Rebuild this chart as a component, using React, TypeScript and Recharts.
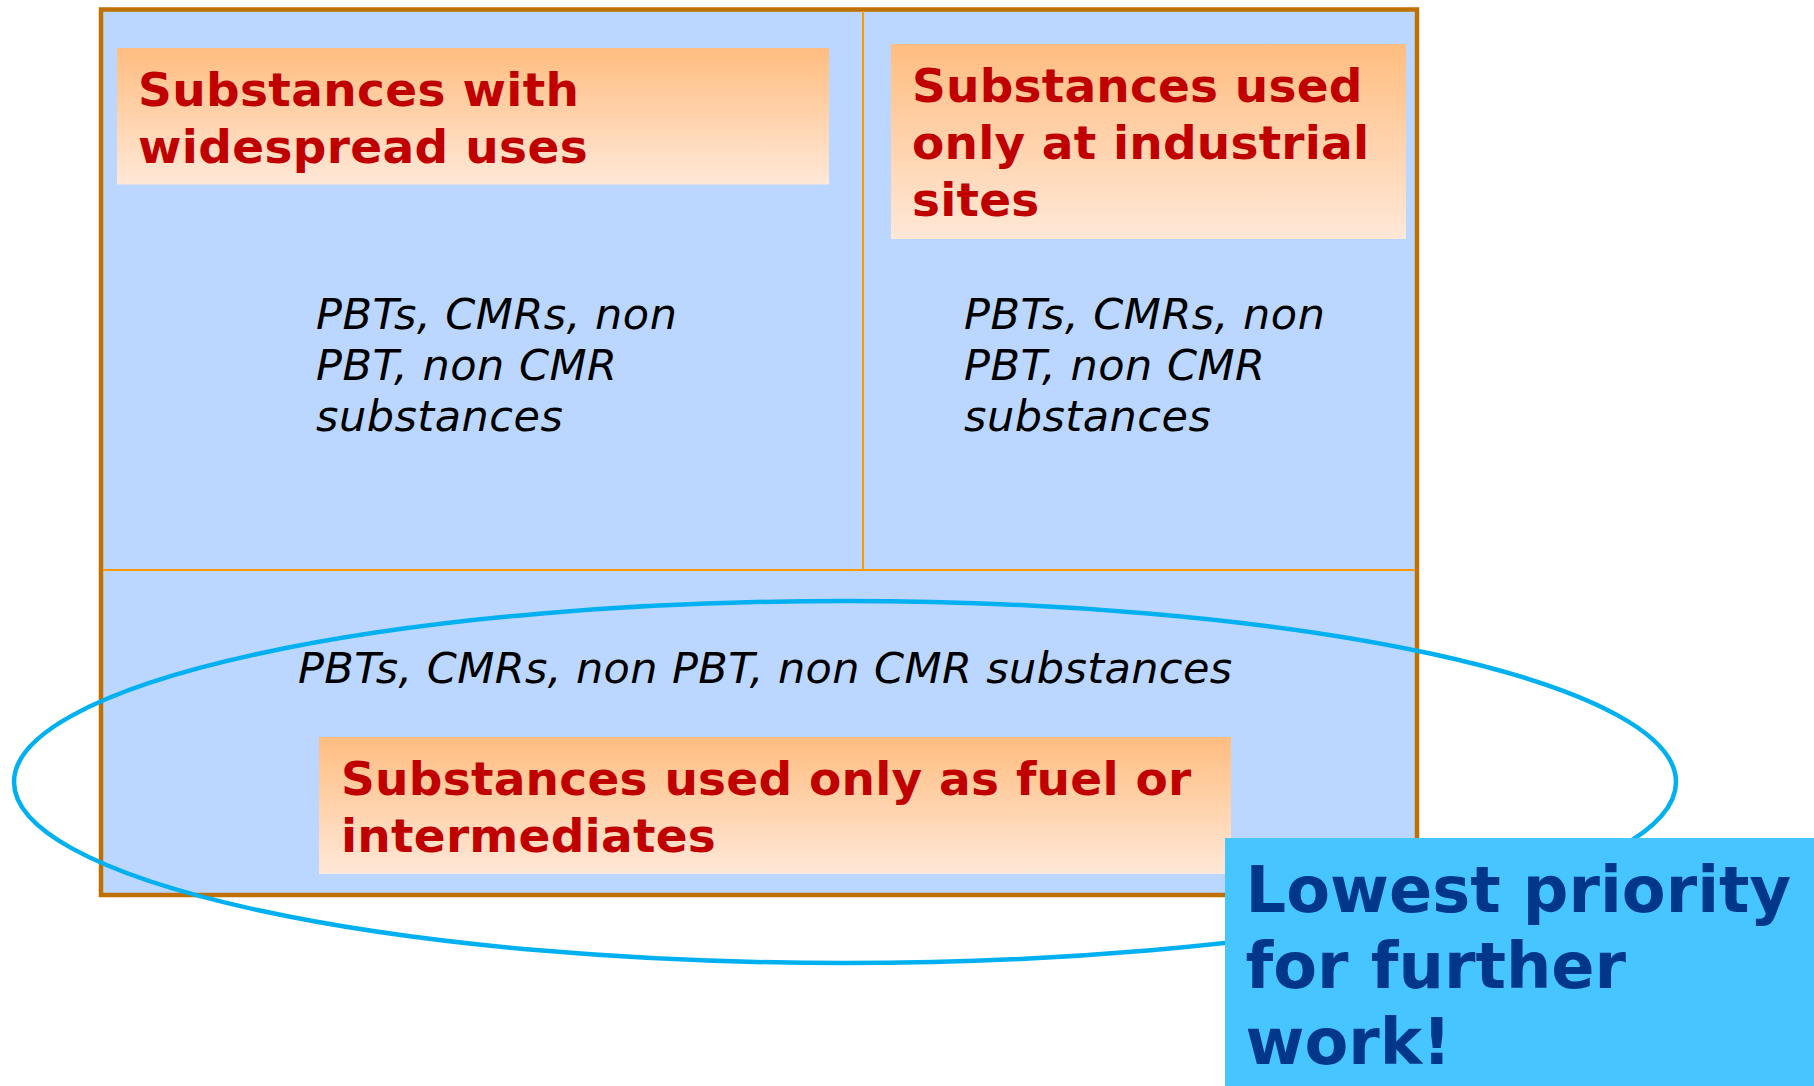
import React from "react";
import { ComposedChart, XAxis, YAxis, ReferenceArea, ReferenceLine, ReferenceDot } from "recharts";

// text content of the diagram
const widespreadTitle = ["Substances with", "widespread uses"];
const industrialTitle = ["Substances used", "only at industrial", "sites"];
const fuelTitle = ["Substances used only as fuel or", "intermediates"];
const hazardLines = ["PBTs, CMRs, non", "PBT, non CMR", "substances"];
const hazardLineWide = ["PBTs, CMRs, non PBT, non CMR substances"];
const calloutLines = ["Lowest priority", "for further", "work!"];

const W = 1814;
const H = 1086;
const FONT = "'DejaVu Sans', Verdana, sans-serif";

const RED = "#C00000";
const PANEL = "#BBD7FF";
const BORDER = "#BF7000";
const DIVIDER = "#FF9900";
const RING = "#00B0F0";
const CALLOUT = "#47C5FF";
const CALLOUT_TEXT = "#00378A";

const textShape = (
  lines: string[],
  opts: { size: number; lh: number; color: string; bold?: boolean; italic?: boolean; spacing?: number }
) =>
  (props: any) => (
    <text
      x={props.cx}
      y={props.cy}
      fill={opts.color}
      fontFamily={FONT}
      fontSize={opts.size}
      fontWeight={opts.bold ? "bold" : "normal"}
      fontStyle={opts.italic ? "italic" : "normal"}
      letterSpacing={opts.spacing ?? 0}
    >
      {lines.map((l, i) => (
        <tspan key={i} x={props.cx} dy={i === 0 ? 0 : opts.lh}>{l}</tspan>
      ))}
    </text>
  );

const ellipseShape = (props: any) => (
  <ellipse
    cx={props.x + props.width / 2}
    cy={props.y + props.height / 2}
    rx={props.width / 2}
    ry={props.height / 2}
    fill="none"
    stroke={RING}
    strokeWidth={4.5}
  />
);

export default function App() {
  return (
    <div style={{ position: "absolute", left: 0, top: 0, width: W, height: H, background: "#fff" }}>
      <ComposedChart width={W} height={H} margin={{ top: 0, right: 0, bottom: 0, left: 0 }} data={[]}>
        <defs>
          <linearGradient id="peach" x1="0" y1="0" x2="0" y2="1">
            <stop offset="0%" stopColor="#FFBD80" />
            <stop offset="100%" stopColor="#FFE8D8" />
          </linearGradient>
        </defs>
        <XAxis type="number" dataKey="x" domain={[0, W]} allowDataOverflow hide height={0} />
        <YAxis type="number" dataKey="y" domain={[0, H]} allowDataOverflow reversed hide width={0} />

        {/* main panel */}
        <ReferenceArea x1={101} x2={1417} y1={9.5} y2={895} fill={PANEL} fillOpacity={1} stroke={BORDER} strokeWidth={4.5} ifOverflow="visible" />
        <ReferenceLine segment={[{ x: 863, y: 11 }, { x: 863, y: 570 }]} stroke={DIVIDER} strokeWidth={2} ifOverflow="visible" />
        <ReferenceLine segment={[{ x: 103, y: 570 }, { x: 1415, y: 570 }]} stroke={DIVIDER} strokeWidth={2} ifOverflow="visible" />

        {/* title boxes */}
        <ReferenceArea x1={117} x2={829} y1={48} y2={184.5} fill="url(#peach)" fillOpacity={1} stroke="none" ifOverflow="visible" />
        <ReferenceArea x1={891} x2={1406} y1={44} y2={239} fill="url(#peach)" fillOpacity={1} stroke="none" ifOverflow="visible" />
        <ReferenceArea x1={319} x2={1231} y1={737} y2={874} fill="url(#peach)" fillOpacity={1} stroke="none" ifOverflow="visible" />

        <ReferenceDot x={138} y={106} r={0} ifOverflow="visible" shape={textShape(widespreadTitle, { size: 47, lh: 57, color: RED, bold: true, spacing: 0.35 })} />
        <ReferenceDot x={912} y={102} r={0} ifOverflow="visible" shape={textShape(industrialTitle, { size: 47, lh: 57, color: RED, bold: true, spacing: 0.2 })} />
        <ReferenceDot x={341} y={795} r={0} ifOverflow="visible" shape={textShape(fuelTitle, { size: 47, lh: 57, color: RED, bold: true, spacing: 0.25 })} />

        <ReferenceDot x={316} y={329} r={0} ifOverflow="visible" shape={textShape(hazardLines, { size: 43, lh: 51, color: "#000", italic: true, spacing: 0.5 })} />
        <ReferenceDot x={964} y={329} r={0} ifOverflow="visible" shape={textShape(hazardLines, { size: 43, lh: 51, color: "#000", italic: true, spacing: 0.5 })} />
        <ReferenceDot x={298} y={683} r={0} ifOverflow="visible" shape={textShape(hazardLineWide, { size: 43, lh: 51, color: "#000", italic: true, spacing: 0.4 })} />

        {/* ring around the lowest-priority group */}
        <ReferenceArea x1={14} x2={1676} y1={601} y2={963} ifOverflow="visible" shape={ellipseShape} />

        {/* callout */}
        <ReferenceArea x1={1225} x2={W} y1={838} y2={H} fill={CALLOUT} fillOpacity={1} stroke="none" ifOverflow="visible" />
        <ReferenceDot x={1245.5} y={912} r={0} ifOverflow="visible" shape={textShape(calloutLines, { size: 63.8, lh: 76, color: CALLOUT_TEXT, bold: true })} />
      </ComposedChart>
    </div>
  );
}
